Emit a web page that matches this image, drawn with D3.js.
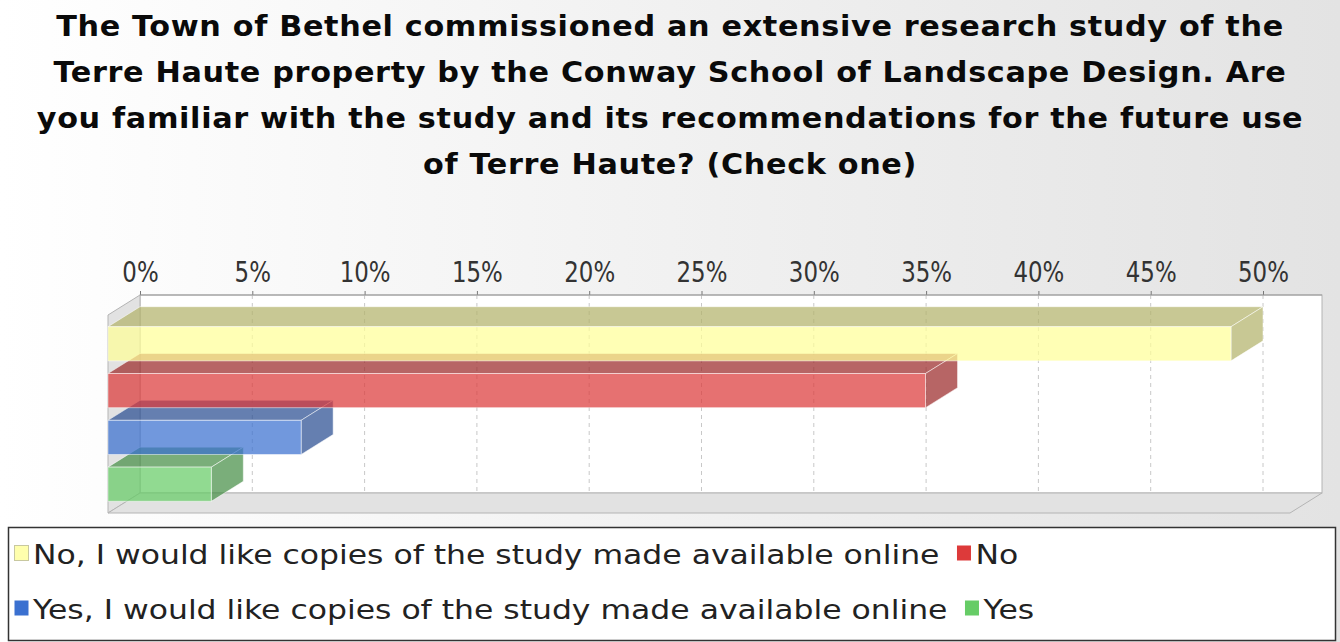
<!DOCTYPE html>
<html>
<head>
<meta charset="utf-8">
<script src="https://cdn.jsdelivr.net/npm/d3@7/dist/d3.min.js"></script>
<style>
body { margin: 0; background: #fff; }
svg text { font-family: "DejaVu Sans", sans-serif; }
</style>
</head>
<body>
<div id="chart"></div>
<script>
// chart data
var titleLines = [
	"The Town of Bethel commissioned an extensive research study of the",
	"Terre Haute property by the Conway School of Landscape Design. Are",
	"you familiar with the study and its recommendations for the future use",
	"of Terre Haute? (Check one)"
];
var series = [
	"No, I would like copies of the study made available online",
	"No",
	"Yes, I would like copies of the study made available online",
	"Yes"
];
var values = [50.0, 36.4, 8.6, 4.6];
var colors = ["#ffff99", "#dd3a3a", "#3a70d0", "#66cc66"];
var tickValues = [0, 5, 10, 15, 20, 25, 30, 35, 40, 45, 50];

var W = 1340, H = 642;
var dx = 32, dy = 20;            // 3d depth offset
var wall = { x0: 140, x1: 1322, y0: 295, y1: 493 };   // back wall
var barAlpha = 0.72;

var svg = d3.select("#chart").append("svg")
	.attr("width", W)
	.attr("height", H);

var defs = svg.append("defs");
var bg = defs.append("linearGradient")
	.attr("id", "bg")
	.attr("x1", 0).attr("y1", 0).attr("x2", 1).attr("y2", 0);
bg.append("stop").attr("offset", "0%").attr("stop-color", "#ffffff");
bg.append("stop").attr("offset", "100%").attr("stop-color", "#e3e3e3");

svg.append("rect")
	.attr("width", W)
	.attr("height", H)
	.attr("fill", "url(#bg)");

// title
var title = svg.append("g").attr("class", "title");
var titleText = title.selectAll("g")
	.data(titleLines)
	.enter()
	.append("g")
	.attr("transform", function(d, i) { return "translate(670," + (36 + i*46) + ")"; })
	.append("text")
	.attr("text-anchor", "middle")
	.attr("font-family", "DejaVu Sans Condensed, DejaVu Sans, sans-serif")
	.attr("font-size", 28)
	.attr("font-weight", "bold")
	.attr("letter-spacing", 0.6)
	.attr("fill", "#0a0a0a")
	.text(function(d) { return d; });
var titleScale = 1228 / titleText.node().getComputedTextLength();
titleText.attr("transform", "scale(" + titleScale + ",1)");

// scales: value axis on the back wall, bars on the front plane
var x = d3.scaleLinear().domain([0, 50]).range([wall.x0, 1263]);
var y = d3.scaleBand()
	.domain(series)
	.range([wall.y0 + dy, wall.y1 + dy])
	.paddingInner(0.27)
	.paddingOuter(0.25);

var plot = svg.append("g").attr("class", "plot");

// back wall
plot.append("rect")
	.attr("x", wall.x0)
	.attr("y", wall.y0)
	.attr("width", wall.x1 - wall.x0)
	.attr("height", wall.y1 - wall.y0)
	.attr("fill", "#ffffff")
	.attr("stroke", "#b4b4b4")
	.attr("stroke-width", 1);

// left wall and floor
plot.append("polygon")
	.attr("points", [[wall.x0 - dx, wall.y0 + dy], [wall.x0, wall.y0], [wall.x0, wall.y1], [wall.x0 - dx, wall.y1 + dy]].join(" "))
	.attr("fill", "#e2e2e2")
	.attr("stroke", "#b4b4b4");
plot.append("polygon")
	.attr("points", [[wall.x0 - dx, wall.y1 + dy], [wall.x0, wall.y1], [wall.x1, wall.y1], [wall.x1 - dx, wall.y1 + dy]].join(" "))
	.attr("fill", "#e2e2e2")
	.attr("stroke", "#b4b4b4");

// gridlines
plot.selectAll(".grid")
	.data(tickValues)
	.enter()
	.append("line")
	.attr("class", "grid")
	.attr("x1", function(d) { return x(d); })
	.attr("x2", function(d) { return x(d); })
	.attr("y1", wall.y0)
	.attr("y2", wall.y1)
	.attr("stroke", "#c8c8c8")
	.attr("stroke-dasharray", "4,4")
	.style("visibility", function(d) { return d == 0 ? "hidden" : "visible"; });

// axis on top
var axis = plot.append("g")
	.attr("class", "axis")
	.attr("transform", "translate(0," + wall.y0 + ")")
	.call(d3.axisTop(x)
		.tickValues(tickValues)
		.tickSize(4)
		.tickPadding(9)
		.tickFormat(function(d) { return d + "%"; }));
axis.select(".domain").remove();
axis.selectAll(".tick line").attr("stroke", "#777");
axis.selectAll(".tick text")
	.attr("font-size", 29)
	.attr("fill", "#333")
	.attr("font-family", "DejaVu Sans Condensed, DejaVu Sans, sans-serif");
var tickScale = 51 / axis.selectAll(".tick text").filter(function(d) { return d == 45; }).node().getComputedTextLength();
axis.selectAll(".tick text").attr("transform", "scale(" + tickScale + ",1)");
plot.append("line")
	.attr("x1", wall.x0)
	.attr("x2", wall.x1)
	.attr("y1", wall.y0)
	.attr("y2", wall.y0)
	.attr("stroke", "#999");

// bars, drawn bottom first so the upper bars cover the lower tops
function darker(c) {
	var r = d3.rgb(c);
	return d3.rgb(r.r*0.7, r.g*0.7, r.b*0.7).toString();
}
var bars = series.map(function(s, i) { return { name: s, value: values[i], color: colors[i] }; }).reverse();
var bar = plot.selectAll(".bar")
	.data(bars)
	.enter()
	.append("g")
	.attr("class", "bar");
var fx0 = x(0) - dx;
bar.append("polygon")
	.attr("class", "bar-top")
	.attr("points", function(d) {
		var x1 = x(d.value) - dx, t = y(d.name);
		return [[fx0, t], [fx0 + dx, t - dy], [x1 + dx, t - dy], [x1, t]].join(" ");
	})
	.attr("fill", function(d) { return darker(d.color); })
	.attr("fill-opacity", barAlpha)
	.attr("stroke", "#ffffff")
	.attr("stroke-opacity", 0.5);
bar.append("polygon")
	.attr("class", "bar-side")
	.attr("points", function(d) {
		var x1 = x(d.value) - dx, t = y(d.name), b = t + y.bandwidth();
		return [[x1, t], [x1 + dx, t - dy], [x1 + dx, b - dy], [x1, b]].join(" ");
	})
	.attr("fill", function(d) { return darker(d.color); })
	.attr("fill-opacity", barAlpha)
	.attr("stroke", "#ffffff")
	.attr("stroke-opacity", 0.5);
bar.append("rect")
	.attr("class", "bar-front")
	.attr("x", fx0)
	.attr("y", function(d) { return y(d.name); })
	.attr("width", function(d) { return x(d.value) - x(0); })
	.attr("height", y.bandwidth())
	.attr("fill", function(d) { return d.color; })
	.attr("fill-opacity", barAlpha)
	.attr("stroke", "#ffffff")
	.attr("stroke-opacity", 0.5);

// legend
var legend = svg.append("g").attr("class", "legend");
legend.append("rect")
	.attr("x", 8.5)
	.attr("y", 527.5)
	.attr("width", 1327)
	.attr("height", 113)
	.attr("fill", "#ffffff")
	.attr("stroke", "#333")
	.attr("stroke-width", 1.5);

var rows = [[0, 1], [2, 3]];
var legendFont = 27;
var probe = legend.append("text")
	.attr("font-size", legendFont)
	.text(series[0]);
var legendScale = 907 / probe.node().getComputedTextLength();
probe.remove();

rows.forEach(function(row, r) {
	var cx = 14;
	var base = 564 + r*55;
	row.forEach(function(i) {
		legend.append("rect")
			.attr("x", cx + 0.5)
			.attr("y", base - 18.5)
			.attr("width", 14)
			.attr("height", 15)
			.attr("fill", colors[i])
			.attr("fill-opacity", i == 0 ? 0.8 : 1)
			.attr("stroke", i == 0 ? "#c8c8a0" : "none");
		var t = legend.append("g")
			.attr("transform", "translate(" + (cx + 19) + "," + base + ")")
			.append("text")
			.attr("font-size", legendFont)
			.attr("fill", "#222")
			.attr("transform", "scale(" + legendScale + ",1)")
			.text(series[i]);
		cx = cx + 19 + t.node().getComputedTextLength()*legendScale + 17;
	});
});
</script>
</body>
</html>
